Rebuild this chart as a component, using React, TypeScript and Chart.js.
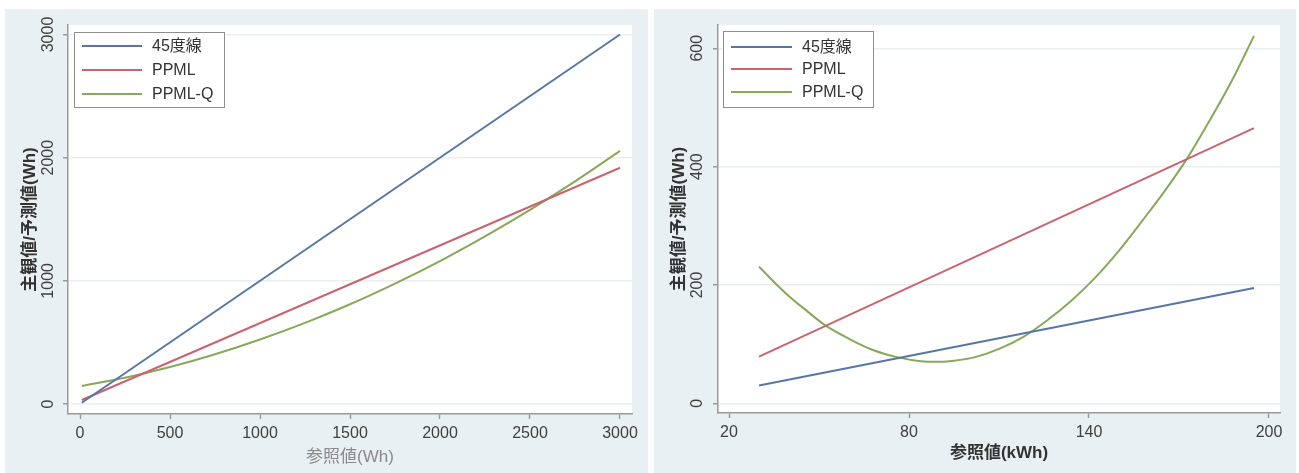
import React, { useEffect, useRef } from "react";
import { Chart, registerables } from "chart.js";

Chart.register(...registerables);

const FONT = '"Liberation Sans", "Noto Sans CJK JP", Arial, sans-serif';

// ---------- Left panel data (Wh) ----------
const leftXTicks = [0, 500, 1000, 1500, 2000, 2500, 3000];
const leftYTicks = [0, 1000, 2000, 3000];
const leftDiagX = [10, 3000];
const leftDiagY = [10, 3000];
const leftPpmlX = [10, 3000];
const leftPpmlY = [33, 1918];
const leftQX = [10, 250, 500, 750, 1000, 1250, 1500, 1750, 2000, 2250, 2500, 2750, 3000];
const leftQY = [147, 213, 300, 404, 524, 659, 810, 978, 1161, 1361, 1576, 1807, 2055];

// ---------- Right panel data (kWh) ----------
const rightXTicks = [20, 80, 140, 200];
const rightYTicks = [0, 200, 400, 600];
const rightDiagX = [30, 195];
const rightDiagY = [30, 195];
const rightPpmlX = [30, 195];
const rightPpmlY = [79, 465];
const rightQX = [30, 35, 40, 45, 52, 60, 68, 76, 84, 89, 95, 102, 110, 118, 126, 134, 142, 150, 158, 166, 173, 180, 188, 195];
const rightQY = [231, 205, 181, 160, 132, 109, 90, 78, 71, 70, 72, 78, 92, 112, 140, 173, 212, 258, 310, 364, 416, 476, 549, 621];

const seriesLabels = ["45度線", "PPML", "PPML-Q"];
const seriesColors = ["#5677a6", "#c9646f", "#88a85a"];

const zip = (xs: number[], ys: number[]) => xs.map((x, i) => ({ x, y: ys[i] }));

const areaBg = {
  id: "areaBg",
  beforeDraw(chart: any) {
    const { ctx, chartArea: a } = chart;
    ctx.save();
    ctx.fillStyle = "#ffffff";
    ctx.fillRect(a.left, a.top, a.right - a.left, a.bottom - a.top);
    ctx.restore();
  },
};

function legendPlugin(box: any) {
  return {
    id: "boxLegend",
    afterDatasetsDraw(chart: any) {
      const { ctx, chartArea: a } = chart;
      const x = Math.round(a.left + box.dx);
      const y = Math.round(a.top + box.dy);
      ctx.save();
      ctx.fillStyle = "#ffffff";
      ctx.fillRect(x, y, box.w, box.h);
      ctx.strokeStyle = "#8e8e8e";
      ctx.lineWidth = 1;
      ctx.strokeRect(x + 0.5, y + 0.5, box.w, box.h);
      chart.data.datasets.forEach((ds: any, i: number) => {
        const ry = y + box.rows[i];
        ctx.strokeStyle = ds.borderColor;
        ctx.lineWidth = 2;
        ctx.beginPath();
        ctx.moveTo(x + box.l0, ry);
        ctx.lineTo(x + box.l1, ry);
        ctx.stroke();
        ctx.fillStyle = "#333333";
        ctx.font = `16px ${FONT}`;
        ctx.textBaseline = "middle";
        ctx.textAlign = "left";
        ctx.fillText(ds.label, x + box.tx, ry + 1);
      });
      ctx.restore();
    },
  };
}

function buildConfig(p: any): any {
  const datasets = [
    { label: seriesLabels[0], data: zip(p.diagX, p.diagY) },
    { label: seriesLabels[1], data: zip(p.ppmlX, p.ppmlY) },
    { label: seriesLabels[2], data: zip(p.qX, p.qY), cubicInterpolationMode: "monotone" },
  ].map((d, i) => ({
    ...d,
    borderColor: seriesColors[i],
    backgroundColor: seriesColors[i],
    borderWidth: 2,
    pointRadius: 0,
    fill: false,
  }));
  return {
    type: "line",
    data: { datasets },
    options: {
      responsive: false,
      animation: false,
      events: [],
      layout: { padding: { left: 0, right: p.padRight, top: 16, bottom: 0 } },
      plugins: { legend: { display: false }, tooltip: { enabled: false }, title: { display: false } },
      scales: {
        x: {
          type: "linear",
          min: p.xMin,
          max: p.xMax,
          afterBuildTicks: (s: any) => {
            s.ticks = p.xTicks.map((v: number) => ({ value: v }));
          },
          afterFit: (s: any) => {
            s.height = p.xAxisHeight;
          },
          ticks: {
            font: { family: FONT, size: 16 },
            color: "#404040",
            padding: 5,
            maxRotation: 0,
            minRotation: 0,
            callback: (v: any) => String(v),
          },
          grid: {
            drawOnChartArea: false,
            drawTicks: true,
            tickLength: 5,
            tickColor: "#9a9a9a",
            tickWidth: 1.5,
          },
          border: { display: true, color: "#9a9a9a", width: 1.5 },
          title: {
            display: true,
            text: p.xTitle,
            color: p.xTitleColor,
            font: { family: FONT, size: 17, weight: p.xTitleWeight },
            padding: { top: 0, bottom: p.xTitlePadBottom },
          },
        },
        y: {
          type: "linear",
          min: p.yMin,
          max: p.yMax,
          afterBuildTicks: (s: any) => {
            s.ticks = p.yTicks.map((v: number) => ({ value: v }));
          },
          afterFit: (s: any) => {
            s.width = p.yAxisWidth;
          },
          ticks: {
            font: { family: FONT, size: 16 },
            color: "#404040",
            padding: p.yTickPad,
            minRotation: 90,
            maxRotation: 90,
            crossAlign: "center",
            callback: (v: any) => String(v),
          },
          grid: {
            drawOnChartArea: true,
            color: "#e9eff1",
            lineWidth: 1.5,
            drawTicks: true,
            tickLength: 5,
            tickColor: "#9a9a9a",
            tickWidth: 1.5,
          },
          border: { display: true, color: "#9a9a9a", width: 1.5 },
          title: {
            display: true,
            text: "主観値/予測値(Wh)",
            color: "#333333",
            font: { family: FONT, size: 17, weight: "bold" },
            padding: { top: 15, bottom: 0 },
          },
        },
      },
    },
    plugins: [areaBg, legendPlugin(p.legend)],
  };
}

function Panel(props: { left: number; top: number; width: number; height: number; cfg: any }) {
  const ref = useRef<HTMLCanvasElement | null>(null);
  useEffect(() => {
    if (!ref.current) return;
    const chart = new Chart(ref.current, props.cfg);
    return () => chart.destroy();
  }, []);
  return (
    <div
      style={{
        position: "absolute",
        left: props.left,
        top: props.top,
        width: props.width,
        height: props.height,
        background: "#e9f0f3",
      }}
    >
      <canvas ref={ref} width={props.width} height={props.height} style={{ display: "block" }} />
    </div>
  );
}

const leftCfg = buildConfig({
  diagX: leftDiagX,
  diagY: leftDiagY,
  ppmlX: leftPpmlX,
  ppmlY: leftPpmlY,
  qX: leftQX,
  qY: leftQY,
  xTicks: leftXTicks,
  yTicks: leftYTicks,
  xMin: -66.7,
  xMax: 3066.7,
  yMin: -81,
  yMax: 3077,
  padRight: 16,
  xAxisHeight: 59,
  yAxisWidth: 63,
  yTickPad: -3,
  xTitle: "参照値(Wh)",
  xTitleColor: "#8a8a8a",
  xTitleWeight: "normal",
  xTitlePadBottom: 5,
  legend: { dx: 6, dy: 7, w: 150, h: 75, l0: 8, l1: 68, tx: 78, rows: [14, 38, 62] },
});

const rightCfg = buildConfig({
  diagX: rightDiagX,
  diagY: rightDiagY,
  ppmlX: rightPpmlX,
  ppmlY: rightPpmlY,
  qX: rightQX,
  qY: rightQY,
  xTicks: rightXTicks,
  yTicks: rightYTicks,
  xMin: 16.33,
  xMax: 203.67,
  yMin: -16.4,
  yMax: 639.3,
  padRight: 16,
  xAxisHeight: 60,
  yAxisWidth: 64,
  yTickPad: 2,
  xTitle: "参照値(kWh)",
  xTitleColor: "#333333",
  xTitleWeight: "bold",
  xTitlePadBottom: 9,
  legend: { dx: 5, dy: 6, w: 150, h: 76, l0: 8, l1: 69, tx: 79, rows: [16, 38, 61] },
});

export default function App() {
  return (
    <div style={{ position: "absolute", left: 0, top: 0, width: 1299, height: 473, background: "#ffffff", overflow: "hidden" }}>
      <Panel left={5} top={9} width={643} height={464} cfg={leftCfg} />
      <Panel left={654} top={9} width={642} height={464} cfg={rightCfg} />
    </div>
  );
}
